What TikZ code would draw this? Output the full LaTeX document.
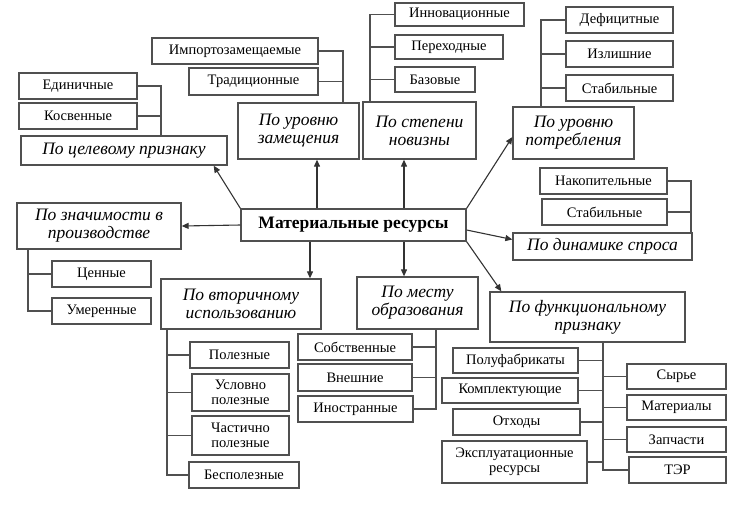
\documentclass[tikz,border=0pt]{standalone}
\usepackage{fontspec}
\setmainfont{Liberation Serif}
\usetikzlibrary{arrows.meta}
\definecolor{boxgray}{RGB}{80,80,80}
\newcommand\lffont{\fontsize{14.5}{15.5}\selectfont}
\newcommand\ctfont{\fontsize{17.5}{18}\selectfont\itshape}
\newcommand\mnfont{\fontsize{17.5}{18}\selectfont\bfseries}
\begin{document}
\begin{tikzpicture}[x=1pt,y=-1pt,
  leaf/.style={draw=boxgray, line width=1.3pt, inner sep=0pt, font=\lffont, align=center},
  cat/.style={draw=boxgray, line width=1.3pt, inner sep=0pt, font=\ctfont, align=center},
  conn/.style={draw=boxgray, line width=1.2pt},
  arr/.style={draw=black!80, line width=1.1pt, -{Triangle[length=7pt,width=6pt]}}]
\useasboundingbox (0,0) rectangle (749,504);
% main
\node[leaf, font=\mnfont, minimum width=225pt, minimum height=32pt] (main) at (353.5,225) {Материальные ресурсы};
% categories
\node[cat, minimum width=206pt, minimum height=29pt] (c1) at (124,150.5) {По целевому признаку};
\node[cat, minimum width=121pt, minimum height=56pt] (c2) at (298.5,131) {По уровню\\замещения};
\node[cat, minimum width=113pt, minimum height=57pt] (c3) at (419.5,130.5) {По степени\\новизны};
\node[cat, minimum width=121pt, minimum height=52pt] (c4) at (573.5,133) {По уровню\\потребления};
\node[cat, minimum width=179pt, minimum height=27pt] (c5) at (602.5,246.5) {По динамике спроса};
\node[cat, minimum width=164pt, minimum height=46pt] (c6) at (99,226) {По значимости в\\производстве};
\node[cat, minimum width=160pt, minimum height=50pt] (c7) at (241,304) {По вторичному\\использованию};
\node[cat, minimum width=121pt, minimum height=52pt] (c8) at (417.5,303) {По месту\\образования};
\node[cat, minimum width=195pt, minimum height=50pt] (c9) at (587.5,317) {По функциональному\\признаку};
% leaves
\node[leaf, minimum width=118pt, minimum height=26pt] (e1) at (78,86) {Единичные};
\node[leaf, minimum width=118pt, minimum height=26pt] (e2) at (78,116) {Косвенные};
\node[leaf, minimum width=166pt, minimum height=26pt] (i1) at (235,51) {Импортозамещаемые};
\node[leaf, minimum width=129pt, minimum height=27pt] (i2) at (253.5,81.5) {Традиционные};
\node[leaf, minimum width=129pt, minimum height=23pt] (n1) at (459.5,14.5) {Инновационные};
\node[leaf, minimum width=108pt, minimum height=24pt] (n2) at (449,47) {Переходные};
\node[leaf, minimum width=80pt, minimum height=25pt] (n3) at (435,79.5) {Базовые};
\node[leaf, minimum width=107pt, minimum height=26pt] (d1) at (619.5,20) {Дефицитные};
\node[leaf, minimum width=107pt, minimum height=26pt] (d2) at (619.5,54) {Излишние};
\node[leaf, minimum width=107pt, minimum height=26pt] (d3) at (619.5,88) {Стабильные};
\node[leaf, minimum width=127pt, minimum height=26pt] (s1) at (603.5,181) {Накопительные};
\node[leaf, minimum width=125pt, minimum height=26pt] (s2) at (604.5,212) {Стабильные};
\node[leaf, minimum width=99pt, minimum height=26pt] (z1) at (101.5,274) {Ценные};
\node[leaf, minimum width=99pt, minimum height=26pt] (z2) at (101.5,311) {Умеренные};
\node[leaf, minimum width=99pt, minimum height=26pt] (v1) at (239.5,355) {Полезные};
\node[leaf, minimum width=97pt, minimum height=37pt] (v2) at (240.5,392.5) {Условно\\полезные};
\node[leaf, minimum width=97pt, minimum height=39pt] (v3) at (240.5,435.5) {Частично\\полезные};
\node[leaf, minimum width=110pt, minimum height=26pt] (v4) at (244,475) {Бесполезные};
\node[leaf, minimum width=114pt, minimum height=26pt] (m1) at (355,347) {Собственные};
\node[leaf, minimum width=114pt, minimum height=27pt] (m2) at (355,377.5) {Внешние};
\node[leaf, minimum width=115pt, minimum height=26pt] (m3) at (355.5,409) {Иностранные};
\node[leaf, minimum width=125pt, minimum height=25pt] (f1) at (515.5,360.5) {Полуфабрикаты};
\node[leaf, minimum width=136pt, minimum height=25pt] (f2) at (510,390.5) {Комплектующие};
\node[leaf, minimum width=127pt, minimum height=26pt] (f3) at (516.5,422) {Отходы};
\node[leaf, minimum width=145pt, minimum height=42pt] (f4) at (514.5,462) {Эксплуатационные\\ресурсы};
\node[leaf, minimum width=99pt, minimum height=25pt] (g1) at (676.5,376.5) {Сырье};
\node[leaf, minimum width=99pt, minimum height=25pt] (g2) at (676.5,407.5) {Материалы};
\node[leaf, minimum width=99pt, minimum height=25pt] (g3) at (676.5,439.5) {Запчасти};
\node[leaf, minimum width=97pt, minimum height=26pt] (g4) at (677.5,470) {ТЭР};
% bus x positions
\coordinate (xa) at (161,0);
\coordinate (xb) at (343,0);
\coordinate (xc) at (370,0);
\coordinate (xd) at (541,0);
\coordinate (xe) at (691,0);
\coordinate (xf) at (28,0);
\coordinate (xg) at (167,0);
\coordinate (xh) at (436,0);
\coordinate (xi) at (603,0);
\coordinate (ya) at (317,0);
\coordinate (yb) at (404,0);
\coordinate (yc) at (310,0);
% buses
\draw[conn] (e1.east) -| (c1.north -| xa);
\draw[conn] (e2.east) -- (e2.east -| xa);
\draw[conn] (i1.east) -| (c2.north -| xb);
\draw[conn] (i2.east) -- (i2.east -| xb);
\draw[conn] (c3.north -| xc) |- (n1.west);
\draw[conn] (n2.west -| xc) -- (n2.west);
\draw[conn] (n3.west -| xc) -- (n3.west);
\draw[conn] (c4.north -| xd) |- (d1.west);
\draw[conn] (d2.west -| xd) -- (d2.west);
\draw[conn] (d3.west -| xd) -- (d3.west);
\draw[conn] (s1.east) -| (c5.north -| xe);
\draw[conn] (s2.east) -- (s2.east -| xe);
\draw[conn] (c6.south -| xf) |- (z2.west);
\draw[conn] (z1.west -| xf) -- (z1.west);
\draw[conn] (c7.south -| xg) |- (v4.west);
\draw[conn] (v1.west -| xg) -- (v1.west);
\draw[conn] (v2.west -| xg) -- (v2.west);
\draw[conn] (v3.west -| xg) -- (v3.west);
\draw[conn] (c8.south -| xh) |- (m3.east);
\draw[conn] (m1.east) -- (m1.east -| xh);
\draw[conn] (m2.east) -- (m2.east -| xh);
\draw[conn] (c9.south -| xi) |- (g4.west);
\draw[conn] (f1.east) -- (f1.east -| xi);
\draw[conn] (f2.east) -- (f2.east -| xi);
\draw[conn] (f3.east) -- (f3.east -| xi);
\draw[conn] (f4.east) -- (f4.east -| xi);
\draw[conn] (g1.west -| xi) -- (g1.west);
\draw[conn] (g2.west -| xi) -- (g2.west);
\draw[conn] (g3.west -| xi) -- (g3.west);
% arrows from main
\draw[arr] (main.north west) -- ([xshift=-14pt]c1.south east);
\draw[arr] (main.north -| ya) -- (c2.south -| ya);
\draw[arr] (main.north -| yb) -- (c3.south -| yb);
\draw[arr] (main.north east) -- ([yshift=-4pt]c4.west);
\draw[arr] ([yshift=-5pt]main.east) -- ([yshift=7pt]c5.west);
\draw[arr] (main.south east) -- ([xshift=12pt]c9.north west);
\draw[arr] (main.west) -- (c6.east);
\draw[arr] (main.south -| yc) -- (c7.north -| yc);
\draw[arr] (main.south -| yb) -- (c8.north -| yb);
\end{tikzpicture}
\end{document}
